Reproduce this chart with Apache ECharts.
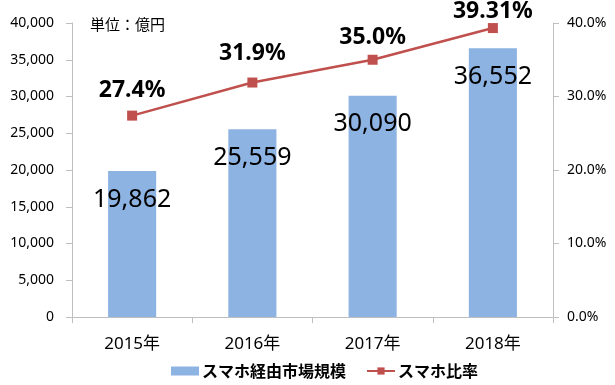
<!DOCTYPE html>
<html><head><meta charset="utf-8">
<script src="https://cdn.jsdelivr.net/npm/echarts@6/dist/echarts.min.js"></script>
<style>html,body{margin:0;padding:0;background:#fff}#c{width:615px;height:385px}</style>
</head><body><div id="c"></div>
<script>
const categories = ['2015年', '2016年', '2017年', '2018年'];
const marketSize = [19862, 25559, 30090, 36552];
const smartphoneRatio = [27.4, 31.9, 35.0, 39.31];
const ratioLabels = ['27.4%', '31.9%', '35.0%', '39.31%'];
const barName = 'スマホ経由市場規模';
const lineName = 'スマホ比率';

// label offsets above the line points (style, not data)
const ratioLabelDistance = [9, 13, 6, 0];

const FONT = '"Noto Sans", "Noto Sans CJK JP", sans-serif';
const chart = echarts.init(document.getElementById('c'), null, {renderer: 'canvas'});
chart.setOption({
  animation: false,
  textStyle: {fontFamily: FONT},
  grid: {left: 72, right: 62, top: 23, bottom: 68},
  graphic: [{
    type: 'text', left: 90, top: 17,
    style: {text: '単位：億円', font: '15px "Noto Sans CJK JP"', fill: '#000'}
  }],
  legend: {
    bottom: 1, left: 166, itemWidth: 28, itemHeight: 9, itemGap: 20,
    textStyle: {fontSize: 16, fontWeight: 'bold', color: '#000', fontFamily: '"Noto Sans CJK JP"', padding: [0, 0, 0, -2]},
    data: [{name: barName, icon: 'rect'}, {name: lineName}]
  },
  xAxis: {
    type: 'category', data: categories,
    axisLine: {lineStyle: {color: '#BFBFBF', width: 1}},
    axisTick: {show: true, length: 6, lineStyle: {color: '#BFBFBF'}},
    axisLabel: {fontSize: 17, color: '#000', margin: 19, fontFamily: FONT}
  },
  yAxis: [{
    type: 'value', min: 0, max: 40000, interval: 5000,
    splitLine: {show: false},
    axisLine: {show: true, lineStyle: {color: '#BFBFBF'}},
    axisTick: {show: true, length: 6, lineStyle: {color: '#BFBFBF'}},
    axisLabel: {fontSize: 14, color: '#000', margin: 18, fontFamily: FONT,
      formatter: v => v.toLocaleString('en-US')}
  }, {
    type: 'value', min: 0, max: 40, interval: 10,
    splitLine: {show: false},
    axisLine: {show: true, lineStyle: {color: '#BFBFBF'}},
    axisTick: {show: true, length: 6, lineStyle: {color: '#BFBFBF'}},
    axisLabel: {fontSize: 14, color: '#000', margin: 14, fontFamily: FONT,
      formatter: v => v.toFixed(1) + '%'}
  }],
  series: [{
    name: barName, type: 'bar', data: marketSize, barWidth: '40%',
    itemStyle: {color: '#8DB3E2'},
    label: {show: true, position: 'insideTop', distance: 16, fontSize: 25, color: '#000',
      fontFamily: FONT, formatter: p => p.value.toLocaleString('en-US')}
  }, {
    name: lineName, type: 'line', yAxisIndex: 1,
    data: smartphoneRatio.map((v, i) => ({value: v, label: {distance: ratioLabelDistance[i]}})),
    symbol: 'rect', symbolSize: 10,
    lineStyle: {color: '#C0504D', width: 2.5},
    itemStyle: {color: '#C0504D'},
    label: {show: true, position: 'top', fontSize: 23, fontWeight: 'bold',
      color: '#000', fontFamily: FONT, formatter: p => ratioLabels[p.dataIndex]}
  }]
});
</script></body></html>
